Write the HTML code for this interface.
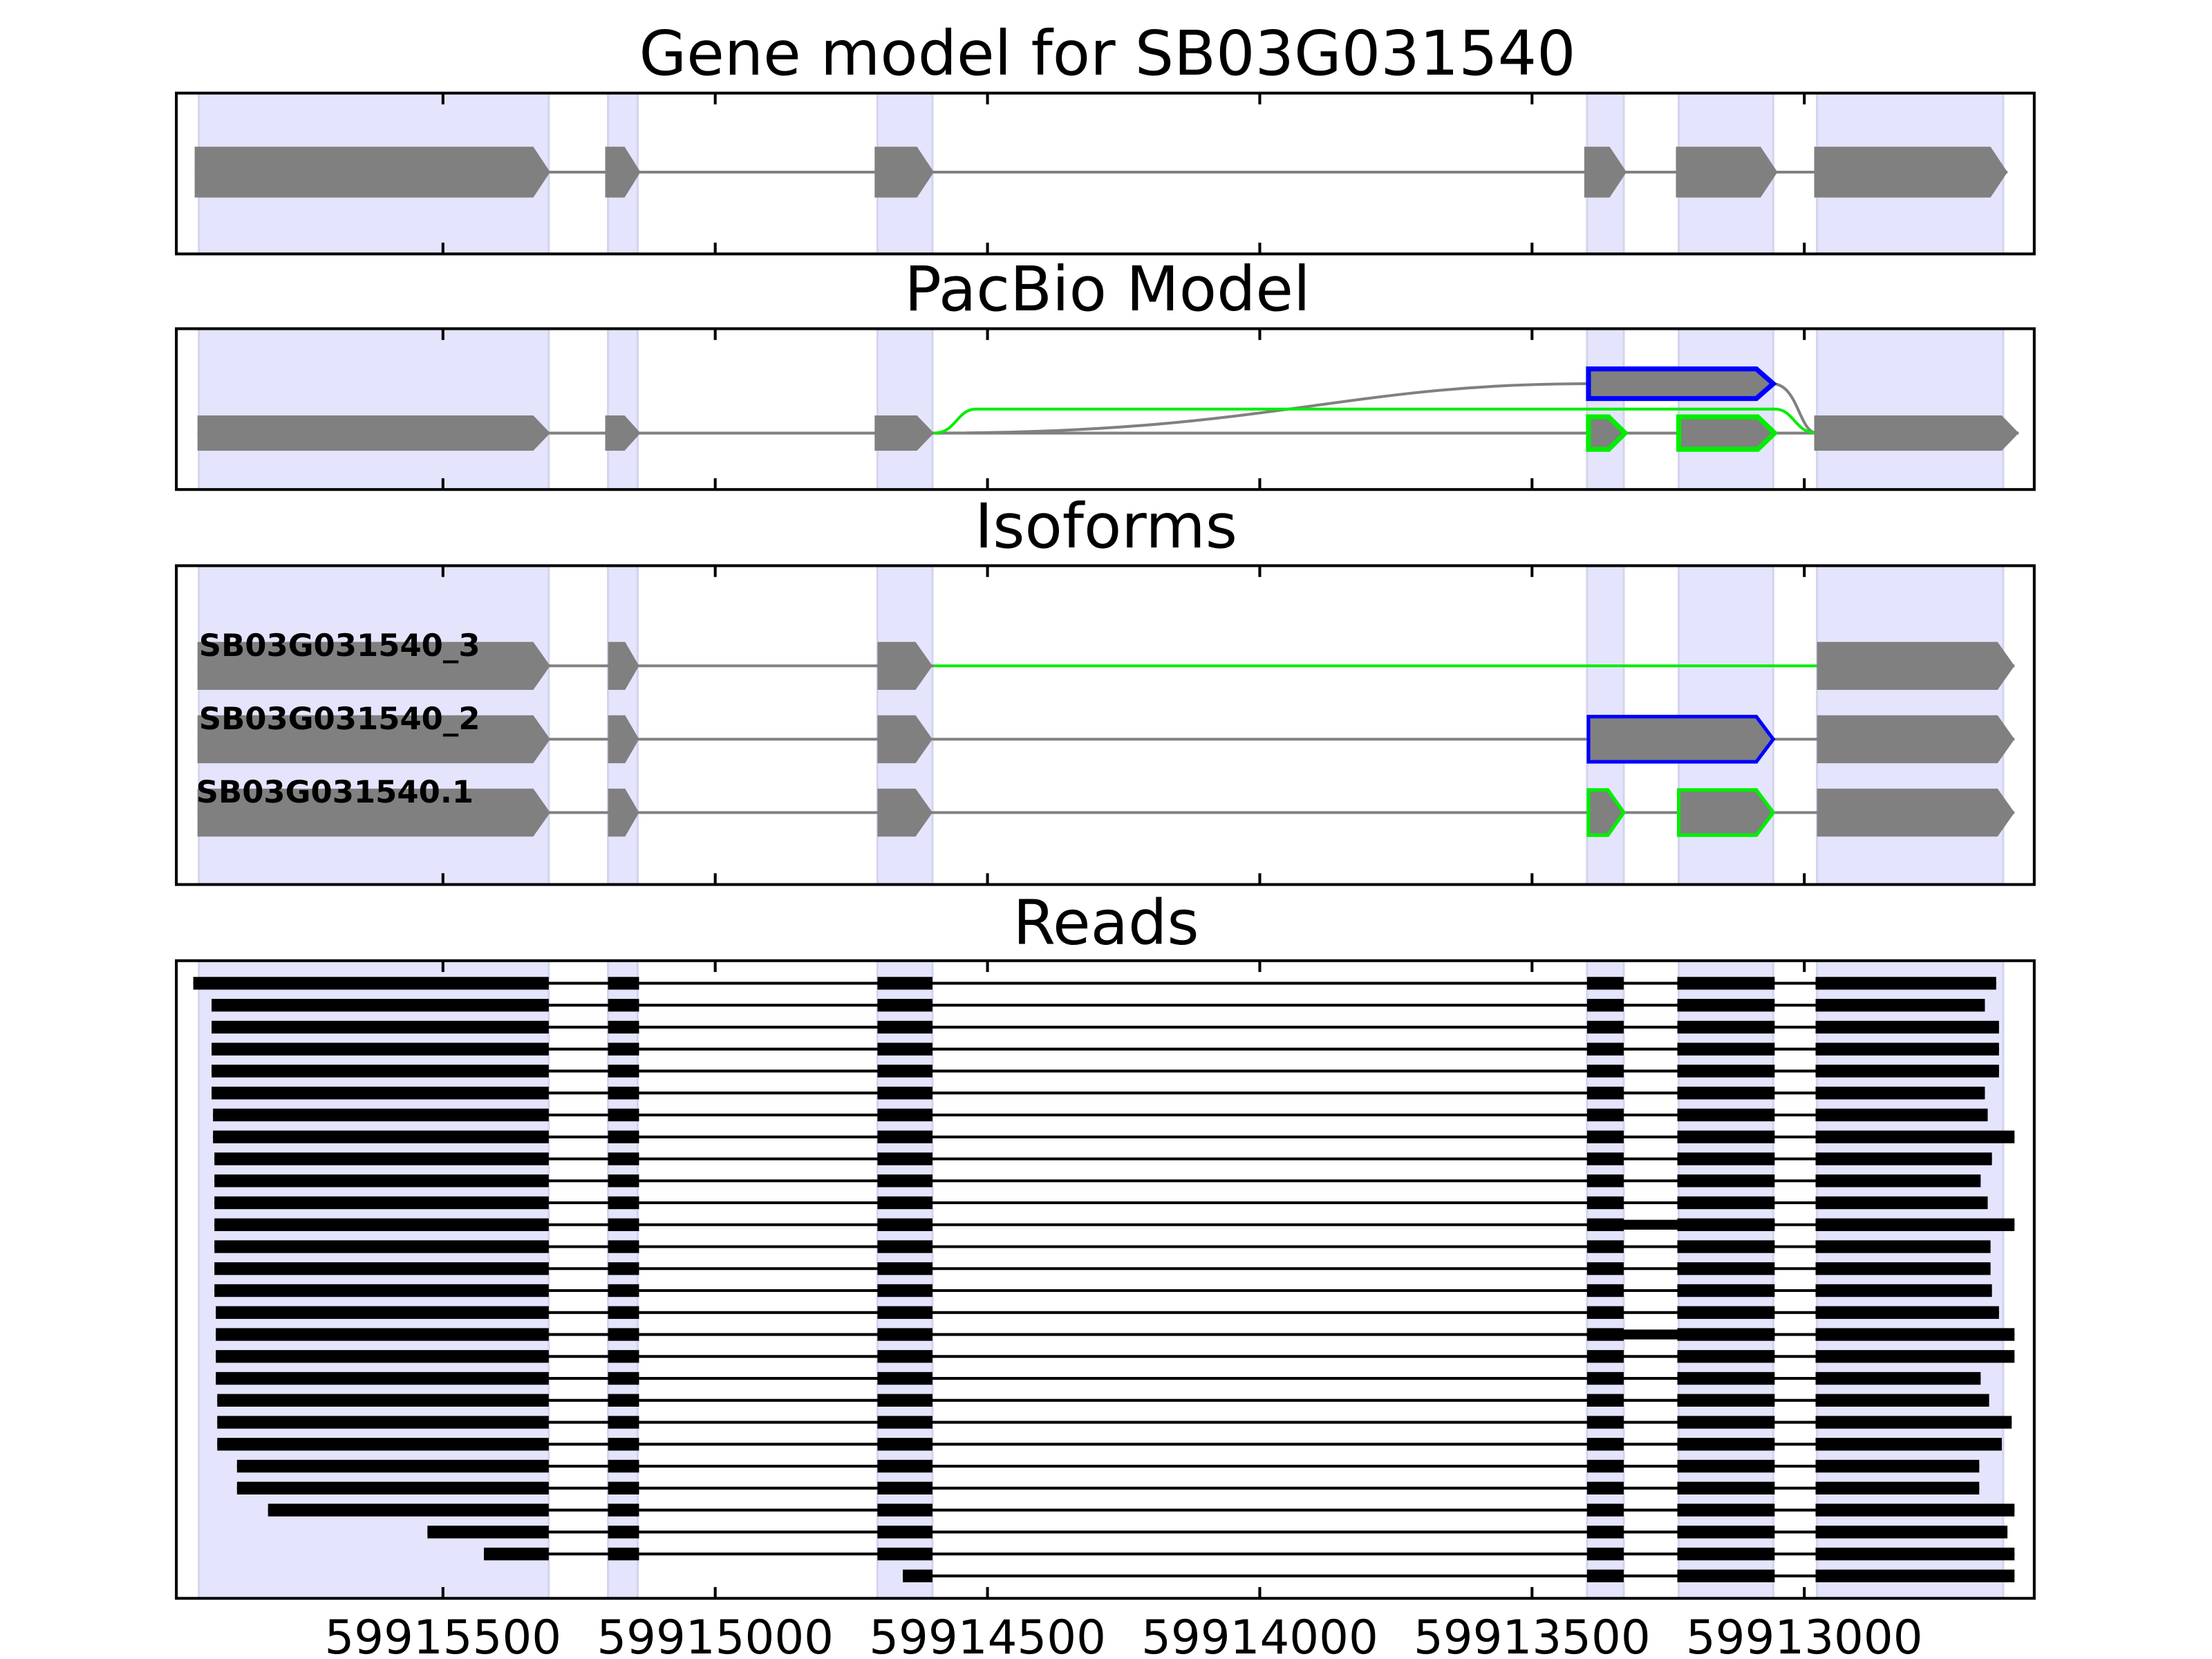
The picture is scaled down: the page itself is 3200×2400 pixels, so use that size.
<!DOCTYPE html>
<html><head><meta charset="utf-8"><style>html,body{margin:0;padding:0;background:#fff}svg{display:block}</style></head>
<body>
<svg id="s" xmlns="http://www.w3.org/2000/svg" width="3200" height="2400" viewBox="0 0 1568 1176" font-family="'DejaVu Sans','Liberation Sans',sans-serif">
<rect width="1568" height="1176" fill="#fff"/>
<g id="shade"></g>
<g id="content"></g>
<g id="frames" fill="none" stroke="#000" stroke-width="2"></g>
<g font-size="43.5" text-anchor="middle">
<text x="785" y="53">Gene model for SB03G031540</text>
<text x="785" y="220">PacBio Model</text>
<text x="784" y="388">Isoforms</text>
<text x="784" y="669">Reads</text>
</g>
<g font-size="33" text-anchor="middle">
<text x="314" y="1172">59915500</text><text x="507" y="1172">59915000</text><text x="700" y="1172">59914500</text>
<text x="893" y="1172">59914000</text><text x="1086" y="1172">59913500</text><text x="1279" y="1172">59913000</text>
</g>
<g font-size="22" font-weight="bold">
<text x="141" y="465">SB03G031540_3</text><text x="141" y="517">SB03G031540_2</text><text x="139" y="569">SB03G031540.1</text>
</g>
</svg>
<script>
const NS="http://www.w3.org/2000/svg";
function el(p,t,a){const e=document.createElementNS(NS,t);for(const k in a)e.setAttribute(k,a[k]);p.appendChild(e);return e;}
const sh=document.getElementById('shade'),c=document.getElementById('content'),fr=document.getElementById('frames');
const panels=[[66,180],[233,347],[401,627],[681,1133]];
const ex=[[141,389],[431,452],[622,661],[1125,1151],[1190,1257],[1288,1420]];
const ticks=[314,507,700,893,1086,1279];
panels.forEach(([a,b])=>{
 ex.forEach(([x1,x2])=>el(sh,'rect',{x:x1,y:a,width:x2-x1,height:b-a,fill:'#e4e4fc',stroke:'#d4d4ee','stroke-width':1.5}));
 el(fr,'rect',{x:125,y:a,width:1317,height:b-a});
 ticks.forEach(t=>{el(fr,'line',{x1:t,y1:a,x2:t,y2:a+8});el(fr,'line',{x1:t,y1:b,x2:t,y2:b-8});});
});
function arrow(x1,x2,y,h,fill,stroke,sw){const tip=Math.min(12,(x2-x1)*0.45);
 el(c,'polygon',{points:`${x1},${y-h/2} ${x2-tip},${y-h/2} ${x2},${y} ${x2-tip},${y+h/2} ${x1},${y+h/2}`,fill:fill,stroke:stroke||'none','stroke-width':sw||0});}
function line(x1,x2,y,col,w){el(c,'line',{x1:x1,y1:y,x2:x2,y2:y,stroke:col,'stroke-width':w||2});}
line(138,1423,122,'#808080');
[[138,390],[429,454],[620,662],[1123,1153],[1188,1260],[1286,1423]].forEach(e=>arrow(e[0],e[1],122,36,'#808080'));
line(140,1431,307,'#808080');
el(c,'path',{d:'M662,307 C900,307 950,272 1125,272',fill:'none',stroke:'#808080','stroke-width':2});
el(c,'path',{d:'M1256,272 C1275,272 1275,307 1288,307',fill:'none',stroke:'#808080','stroke-width':2});
el(c,'path',{d:'M662,307 C678,307 678,290 692,290 L1258,290 C1272,290 1272,307 1288,307',fill:'none',stroke:'#00ee00','stroke-width':2});
[[140,390],[429,454],[620,662],[1286,1431]].forEach(e=>arrow(e[0],e[1],307,25,'#808080'));
arrow(1126,1152,307,23,'#808080','#00ee00',3.5);arrow(1190,1258,307,23,'#808080','#00ee00',3.5);
arrow(1126,1257,272,21,'#808080','#0000ff',3.5);
const rows=[472,524,576];
rows.forEach((y,i)=>{
 if(i==0){line(140,662,y,'#808080');line(662,1288,y,'#00ee00');line(1288,1428,y,'#808080');}
 else line(140,1428,y,'#808080');
 [[140,390],[431,453],[622,661],[1288,1428]].forEach(e=>arrow(e[0],e[1],y,34,'#808080'));
});
arrow(1126,1257,524,32,'#808080','#0000ff',2.5);
arrow(1126,1151,576,32,'#808080','#00ee00',2.5);arrow(1190,1257,576,32,'#808080','#00ee00',2.5);
const st=[137,150,150,150,150,150,151,151,152,152,152,152,152,152,152,153,153,153,153,154,154,154,168,168,190,303,343,640];
const en=[1415,1407,1417,1417,1417,1407,1409,1428,1412,1404,1409,1428,1411,1411,1412,1417,1428,1428,1404,1410,1426,1419,1403,1403,1428,1423,1428,1428];
st.forEach((s,i)=>{const y=697+i*15.56;const e=en[i];
 line(s,e,y,'#000',2);
 const bars=[[s,389],[431,453],[622,661],[1125,1151],[1189,1258],[1287,e]];
 bars.forEach(b=>{const a=Math.max(b[0],s);if(a<b[1])el(c,'rect',{x:a,y:y-4.5,width:b[1]-a,height:9,fill:'#000'});});
 if(i==11||i==16)el(c,'rect',{x:1125,y:y-3.5,width:133,height:7,fill:'#000'});
});
</script>
</body></html>
